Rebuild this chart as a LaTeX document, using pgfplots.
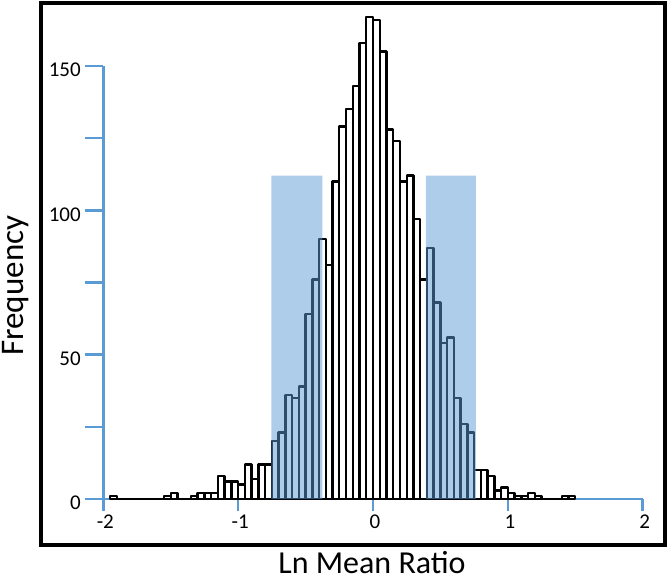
\documentclass[border=0pt]{standalone}
\usepackage{fontspec}
\setmainfont{Carlito}
\usepackage{pgfplots}
\usepackage{pgfplotstable}
\pgfplotsset{compat=1.18}
\definecolor{xblue}{HTML}{5B9BD5}
\pgfplotstableread{
x y
-1.925 1
-1.875 0
-1.825 0
-1.775 0
-1.725 0
-1.675 0
-1.625 0
-1.575 0
-1.525 1
-1.475 2
-1.425 0
-1.375 0
-1.325 1
-1.275 2
-1.225 2
-1.175 2
-1.125 8
-1.075 6
-1.025 6
-0.975 5
-0.925 12
-0.875 7
-0.825 12
-0.775 12
-0.725 20
-0.675 23
-0.625 36
-0.575 35
-0.525 39
-0.475 64
-0.425 76
-0.375 90
-0.325 81
-0.275 110
-0.225 129
-0.175 135
-0.125 143
-0.075 158
-0.025 167
0.025 166
0.075 155
0.125 128
0.175 124
0.225 110
0.275 112
0.325 97
0.375 76
0.425 87
0.475 68
0.525 54
0.575 56
0.625 35
0.675 26
0.725 23
0.775 10
0.825 10
0.875 8
0.925 3
0.975 4
1.025 2
1.075 1
1.125 1
1.175 2
1.225 1
1.275 0
1.325 0
1.375 0
1.425 1
1.475 1
}\histdata
\begin{document}
\begin{tikzpicture}
\useasboundingbox (0pt,0pt) rectangle (668pt,583pt);
% x axis (drawn first, behind the bars)
\begin{axis}[at={(103.3pt,84pt)}, anchor=south west,
  x=134.85pt, y=2.887pt,
  xmin=-2, xmax=2, ymin=0, ymax=150,
  axis y line=none, axis x line=bottom,
  axis line style={draw=xblue, line width=2.6pt, -},
  xtick={-2,-1,0,1,2}, xticklabels={-2,-1,0,1,2},
  tick align=outside, major tick length=12pt,
  tick style={draw=xblue, line width=2.6pt},
  xticklabel style={font=\fontsize{21}{25}\selectfont, xshift=2pt},
  clip=false]
\end{axis}
% y axis and data
\begin{axis}[at={(103.3pt,84pt)}, anchor=south west,
  x=134.85pt, y=2.887pt,
  xmin=-2, xmax=2, ymin=0, ymax=150,
  axis x line=none, axis y line=left,
  axis line style={draw=xblue, line width=2.6pt, -},
  ytick={0,50,100,150}, yticklabels={0,50,100,150},
  minor ytick={25,75,125},
  tick align=outside, major tick length=18pt, minor tick length=18pt,
  tick style={draw=xblue, line width=2.6pt},
  yticklabel style={font=\fontsize{21}{25}\selectfont, yshift=-4pt, xshift=-1pt},
  clip=false]
\addplot[ybar, bar width=0.05, bar shift=0pt, draw=black, fill=white,
  line width=2.4pt, line join=round] table[x=x,y=y]{\histdata};
\addplot[draw=none, fill=xblue, fill opacity=0.5]
  coordinates {(-0.753,0) (-0.753,112) (-0.375,112) (-0.375,0)} \closedcycle;
\addplot[draw=none, fill=xblue, fill opacity=0.5]
  coordinates {(0.392,0) (0.392,112) (0.762,112) (0.762,0)} \closedcycle;
\end{axis}
\node[rotate=90, font=\fontsize{33}{40}\selectfont] at (15.6pt,297.3pt) {Frequency};
\node[anchor=base, inner sep=0pt, font=\fontsize{32}{38}\selectfont] at (372pt,10pt) {Ln Mean Ratio};
\draw[line width=4pt] (41pt,38pt) rectangle (665pt,580pt);
\end{tikzpicture}
\end{document}
